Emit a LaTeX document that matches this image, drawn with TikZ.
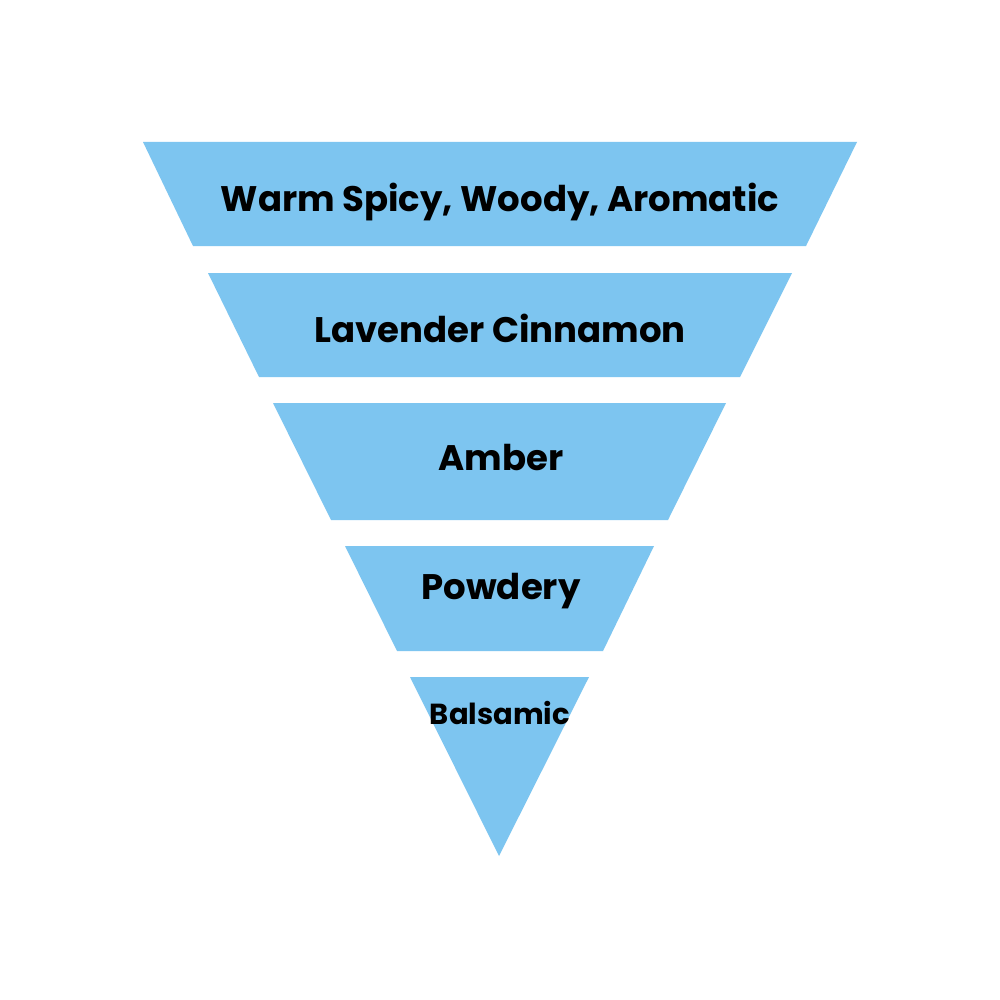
\documentclass[tikz,border=0pt]{standalone}
\usepackage{fontspec}
\setmainfont{Poppins}
\definecolor{band}{HTML}{7DC5F0}
\begin{document}
\begin{tikzpicture}[x=1pt,y=-1pt,
  bandshape/.style={fill=band,draw=none},
  lbl/.style={font=\bfseries\fontsize{35.5}{38}\selectfont,text=black,inner sep=0pt,anchor=base},
  smalllbl/.style={font=\bfseries\fontsize{29}{32}\selectfont,text=black,inner sep=0pt,anchor=base}]
\useasboundingbox (0,0) rectangle (1000,1000);
\fill[white] (0,0) rectangle (1000,1000);
\path[bandshape] (143,142) -- (857,142) -- (806,246) -- (193,246) -- cycle;
\path[bandshape] (208,273) -- (792,273) -- (740,377) -- (259,377) -- cycle;
\path[bandshape] (273,403) -- (726,403) -- (668,520) -- (331,520) -- cycle;
\path[bandshape] (345,546) -- (654,546) -- (603,651) -- (397,651) -- cycle;
\path[bandshape] (410,677) -- (589,677) -- (499,856) -- cycle;
\node[lbl] (t1) at (500,212) {Warm Spicy, Woody, Aromatic};
\node[lbl] (t2) at (500,342) {Lavender Cinnamon};
\node[lbl] (t3) at (501,470) {Amber};
\node[lbl] (t4) at (501,599) {Powdery};
\node[smalllbl] (t5) at (500,724) {Balsamic};
\end{tikzpicture}
\end{document}
